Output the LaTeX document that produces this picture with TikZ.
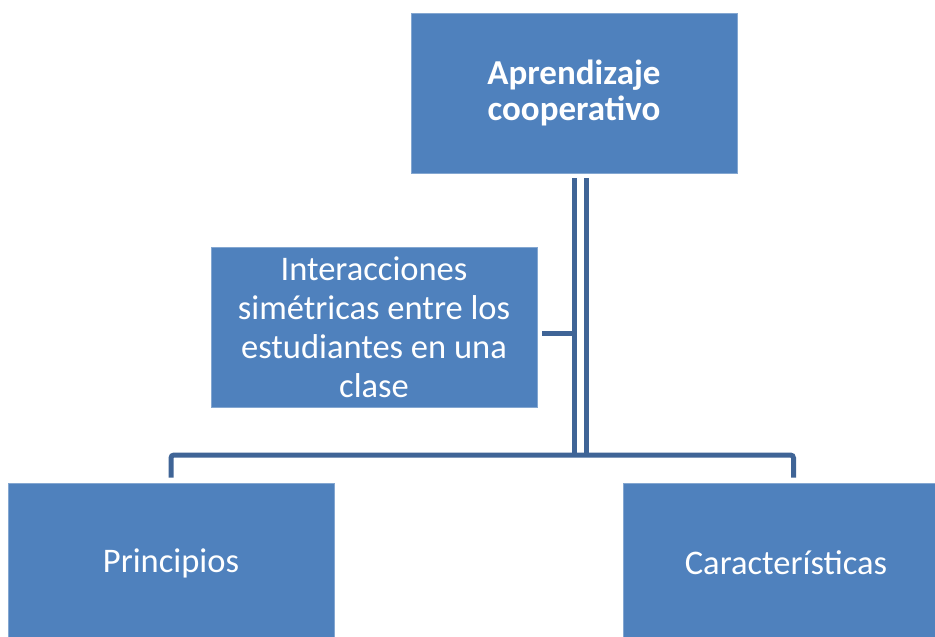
\documentclass[tikz,border=0pt]{standalone}
\usepackage{fontspec}
\setmainfont{Carlito}
\definecolor{boxblue}{RGB}{79,129,189}
\definecolor{linkblue}{RGB}{63,100,150}
\begin{document}
\begin{tikzpicture}[x=1pt,y=1pt,
  box/.style={rectangle, fill=boxblue, draw=boxblue!70!white, line width=0.6pt, text=white, align=center, inner sep=0pt},
  conn/.style={draw=linkblue, line width=5pt},
  lbl/.style={font=\fontsize{34.5}{39}\selectfont}]
\useasboundingbox (0,0) rectangle (935,-637);
\clip (0,0) rectangle (935,-637);
\node[box, minimum width=326, minimum height=160, font=\fontsize{35}{36}\bfseries\selectfont] (top) at (574,-93) {Aprendizaje\\cooperativo};
\node[box, minimum width=326, minimum height=160, lbl] (asst) at (374,-327) {Interacciones\\simétricas entre los\\estudiantes en una\\clase};
\node[box, minimum width=326, minimum height=160, lbl] (prin) at (171,-563) {Principios};
\node[box, minimum width=326, minimum height=160, lbl] (carac) at (786,-563) {Características};
\coordinate (bus) at (0,-455);
\coordinate (aj) at (0,-333.5);
\draw[conn] ([xshift=0.5pt,yshift=-5pt]top.south) -- ([xshift=0.5pt]top.south |- bus);
\draw[conn] ([xshift=12.5pt,yshift=-5pt]top.south) -- ([xshift=12.5pt]top.south |- bus);
\draw[conn] ([xshift=5pt]asst.east |- aj) -- ([xshift=0.5pt]top.south |- aj);
\draw[conn, rounded corners=3pt] ([yshift=5pt]prin.north) -- (prin.north |- bus) -- ([xshift=7.5pt]carac.north |- bus) -- ([xshift=7.5pt,yshift=5pt]carac.north);
\end{tikzpicture}
\end{document}
